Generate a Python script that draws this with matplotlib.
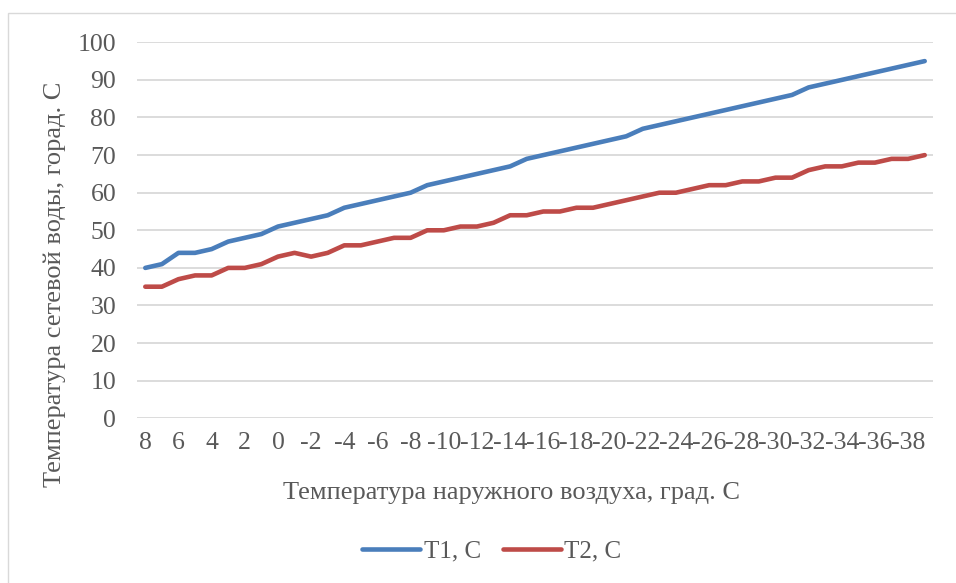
import matplotlib
matplotlib.use("Agg")
import matplotlib.pyplot as plt
from matplotlib.patches import Rectangle

outdoor_temp = list(range(8, -40, -1))  # 8 .. -39
t1 = [40, 41, 44, 44, 45, 47, 48, 49, 51, 52, 53, 54, 56, 57, 58, 59, 60, 62, 63, 64,
      65, 66, 67, 69, 70, 71, 72, 73, 74, 75, 77, 78, 79, 80, 81, 82, 83, 84, 85, 86,
      88, 89, 90, 91, 92, 93, 94, 95]
t2 = [35, 35, 37, 38, 38, 40, 40, 41, 43, 44, 43, 44, 46, 46, 47, 48, 48, 50, 50, 51,
      51, 52, 54, 54, 55, 55, 56, 56, 57, 58, 59, 60, 60, 61, 62, 62, 63, 63, 64, 64,
      66, 67, 67, 68, 68, 69, 69, 70]
y_ticks = list(range(0, 101, 10))
series_names = ["T1, C", "T2, C"]
x_label = "Температура наружного воздуха, град. С"
y_label = "Температура сетевой воды, горад. С"

plt.rcParams['font.family'] = ['Liberation Serif', 'DejaVu Serif']
W, H = 956, 583
fig = plt.figure(figsize=(W / 100, H / 100), dpi=100)
TXT = '#595959'
GRID = '#D9D9D9'
FS = 19

# chart border
fig.patches.append(Rectangle((8 / W, -0.1), 1.2, 1 - 13 / H + 0.1, transform=fig.transFigure,
                             fill=False, edgecolor='#D9D9D9', linewidth=1.0))

ax = fig.add_axes([137 / W, 1 - 418.3 / H, (933 - 137) / W, (418.3 - 42.3) / H])
x = list(range(len(outdoor_temp)))
l1, = ax.plot(x, t1, color='#4A7EBB', lw=3.3, solid_capstyle='round', solid_joinstyle='round', zorder=3)
l2, = ax.plot(x, t2, color='#BE4B48', lw=3.3, solid_capstyle='round', solid_joinstyle='round', zorder=3)

ax.set_xlim(-0.5, len(x) - 0.5)
ax.set_ylim(0, 100)
ax.set_yticks(y_ticks)
ax.set_yticklabels([str(v) for v in y_ticks])
ax.set_xticks(x[::2])
ax.set_xticklabels([str(v) for v in outdoor_temp[::2]])
ax.tick_params(axis='both', length=0, labelsize=18.5, colors=TXT)
ax.tick_params(axis='y', pad=15)
ax.tick_params(axis='x', pad=10)
for s in ax.spines.values():
    s.set_visible(False)
ax.grid(axis='y', color=GRID, lw=1.3)
ax.set_axisbelow(True)

fig.text(512 / W, 1 - 493 / H, x_label, ha='center', va='center', fontsize=FS, color=TXT)
fig.text(55 / W, 1 - 284 / H, y_label, ha='center', va='center', rotation=90, fontsize=FS, color=TXT)

leg = fig.legend([l1, l2], series_names, loc='center', bbox_to_anchor=(492 / W, 1 - 551 / H),
                 ncol=2, frameon=False, fontsize=18, labelcolor=TXT, handlelength=2.3,
                 handletextpad=0.15, columnspacing=0.9)

fig.savefig('out.png', dpi=100)
